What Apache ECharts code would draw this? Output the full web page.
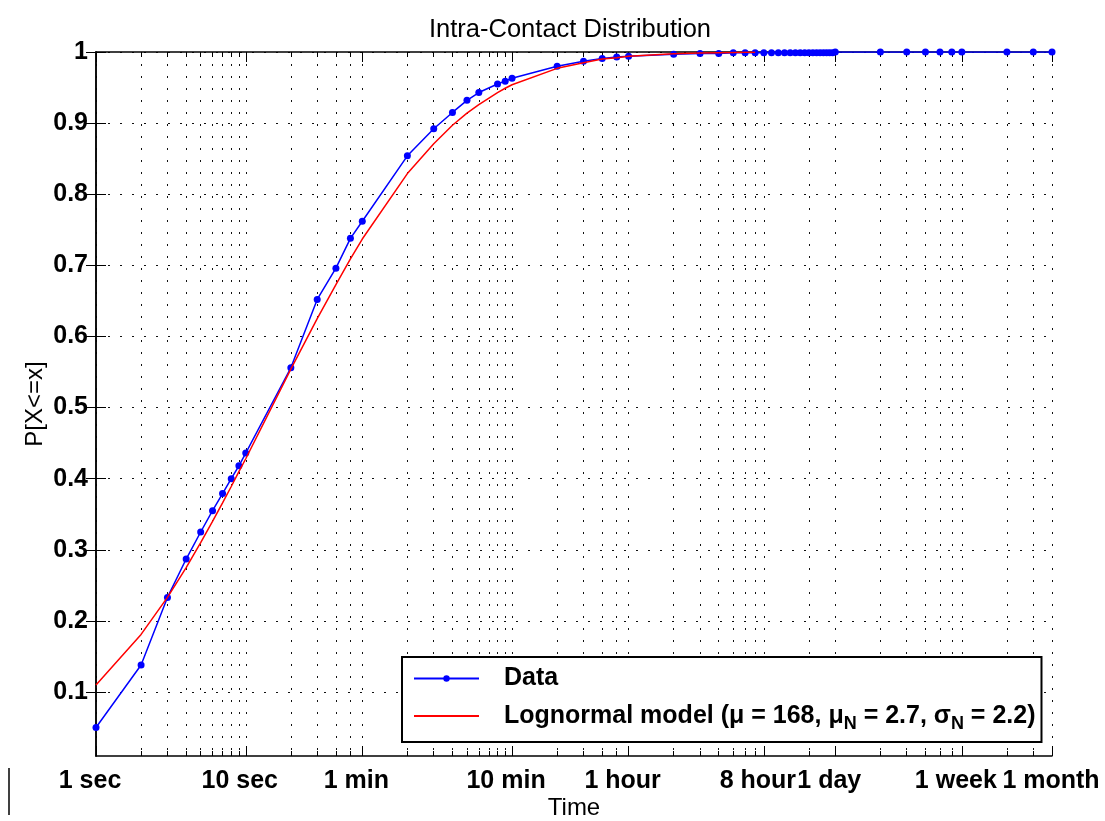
<!DOCTYPE html>
<html>
<head>
<meta charset="utf-8">
<script src="https://cdn.jsdelivr.net/npm/echarts@6/dist/echarts.min.js"></script>
<style>
html,body{margin:0;padding:0;background:#fff;}
#c{width:1105px;height:821px;}
</style>
</head>
<body>
<div id="c"></div>
<script>
// ---------------- DATA ----------------
const chartTitle = 'Intra-Contact Distribution';
const xName = 'Time';
const yName = 'P[X<=x]';

// Empirical CDF sample times (seconds)
const timeSec = [1,2,3,4,5,6,7,8,9,10,
  20,30,40,50,60,
  120,180,240,300,360,480,540,600,
  1200,1800,2400,3000,3600,
  7200,10800,14400,18000,21600,25200,28800,
  32400,36000,39600,43200,46800,50400,54000,57600,61200,64800,68400,72000,75600,79200,82800,86400,
  172800,259200,345600,432000,518400,604800,
  1209600,1814400,2419200];
const dataCdf = [0.050,0.138,0.233,0.287,0.325,0.355,0.379,0.400,0.418,0.436,
  0.556,0.652,0.696,0.738,0.762,
  0.854,0.892,0.915,0.932,0.943,0.955,0.959,0.963,
  0.980,0.987,0.991,0.993,0.994,
  0.997,0.998,0.998,0.999,0.999,0.999,0.999,
  0.999,0.999,0.999,0.999,0.999,0.999,0.999,0.999,0.999,0.999,0.999,0.999,0.999,0.999,0.999,1.000,
  1.000,1.000,1.000,1.000,1.000,1.000,
  1.000,1.000,1.000];

// Lognormal model curve (seconds, CDF)
const modelSec = [1,2,3,4,5,6,7,8,9,10,
  20,30,40,50,60,
  120,180,240,300,360,480,540,600,
  1200,1800,2400,3000,3600,
  7200,10800,14400,18000,21600,25200];
const modelCdf = [0.110,0.181,0.233,0.275,0.310,0.340,0.366,0.389,0.410,0.428,
  0.554,0.625,0.673,0.709,0.737,
  0.829,0.871,0.897,0.914,0.926,0.943,0.949,0.954,
  0.977,0.985,0.990,0.992,0.994,
  0.9975,0.9985,0.999,0.9993,0.9995,0.9996];

const dataName = 'Data';
const modelMu = 168, modelMuN = 2.7, modelSigmaN = 2.2;
const modelName = 'Lognormal model';

// Axis ticks (seconds) and labels
const gridTickSec = [1,2,3,4,5,6,7,8,9,10,20,30,40,50,60,
  120,180,240,300,360,420,480,540,600,1200,1800,2400,3000,3600,
  7200,10800,14400,18000,21600,25200,28800,57600,86400,
  172800,259200,345600,432000,518400,604800,1209600,1814400,2419200];
const labelSec = [1,10,60,600,3600,28800,86400,604800,2419200];
const labelText = ['1 sec','10 sec','1 min','10 min','1 hour','8 hour','1 day','1 week','1 month'];
const yTicks = [0.1,0.2,0.3,0.4,0.5,0.6,0.7,0.8,0.9,1];
const yMin = 0.01, yMax = 1;

// ---------------- CHART ----------------
const chart = echarts.init(document.getElementById('c'), null, {renderer:'canvas'});
const FONT = "'Liberation Sans', Arial, Helvetica, sans-serif";
const lg = v => Math.log10(v);
const xMin = lg(timeSec[0]);
const xMax = lg(timeSec[timeSec.length - 1]);
const fullModelName = `${modelName} (μ = ${modelMu}, μN = ${modelMuN}, σN = ${modelSigmaN})`;

const dotted = {color:'#111', width:1, type:[2,10]};
const blk = {color:'#000', width:1.5};
const lblFont = {fontFamily:FONT, fontSize:25, fontWeight:'bold', color:'#000'};

function xAx(extra){
  return Object.assign({
    type:'value', min:xMin, max:xMax, gridIndex:0,
    axisLine:{show:false}, splitLine:{show:false},
    axisLabel:{show:false}, axisTick:{show:false}
  }, extra);
}
const allTicks = gridTickSec.map(lg);
const labTicks = labelSec.map(lg);

const option = {
  animation:false,
  backgroundColor:'#fff',
  textStyle:{fontFamily:FONT},
  title:{
    text:chartTitle, left:429, top:17, padding:0,
    textStyle:{fontFamily:FONT, fontSize:25.5, fontWeight:'normal', color:'#000'}
  },
  grid:{left:96, right:53, top:52, bottom:65, containLabel:false, outerBoundsMode:'none'},
  legend:{
    orient:'vertical', left:402, top:657,
    padding:[9,6,9,11], itemGap:8,
    itemWidth:65, itemHeight:8,
    backgroundColor:'#fff', borderColor:'#000', borderWidth:2,
    data:[{name:dataName}, {name:fullModelName, itemStyle:{opacity:0}}],
    formatter:function(name){
      if (name === dataName) return '{t|' + dataName + '}';
      return '{t|' + modelName + ' (μ = ' + modelMu + ', μ}{s|N}{t| = ' + modelMuN + ', σ}{s|N}{t| = ' + modelSigmaN + ')}';
    },
    textStyle:{
      fontFamily:FONT, fontSize:25, fontWeight:'bold', color:'#000', padding:[0,0,0,20],
      rich:{
        t:{fontFamily:FONT, fontSize:25, fontWeight:'bold', color:'#000', lineHeight:30},
        s:{fontFamily:FONT, fontSize:18, fontWeight:'bold', color:'#000', lineHeight:30, padding:[16,0,0,0]}
      }
    }
  },
  xAxis:[
    xAx({position:'bottom', axisLine:{show:true, lineStyle:blk},
      axisTick:{show:true, inside:true, length:5, customValues:allTicks, lineStyle:{color:'#000', width:1}},
      splitLine:{show:true, lineStyle:dotted}}),
    xAx({position:'bottom',
      axisTick:{show:true, inside:true, length:10, customValues:labTicks, lineStyle:{color:'#000', width:1}},
      axisLabel:Object.assign({show:true, customValues:labTicks, showMinLabel:true, showMaxLabel:true, hideOverlap:false,
        margin:13,
        rich:{
          a:Object.assign({padding:[0,12,0,0]}, lblFont),
          b:Object.assign({padding:[0,2,0,0]}, lblFont)
        },
        formatter:function(v){
          for (let i=0;i<labelSec.length;i++){
            if (Math.abs(lg(labelSec[i])-v) < 1e-6) return (i === labelSec.length-1 ? '{b|' : '{a|') + labelText[i] + '}';
          }
          return '';
        }}, lblFont),
      name:xName, nameLocation:'middle', nameGap:40, nameMoveOverlap:false,
      nameTextStyle:{fontFamily:FONT, fontSize:24, color:'#000'}}),
    xAx({position:'top', axisLine:{show:true, lineStyle:blk},
      axisTick:{show:true, inside:true, length:5, customValues:allTicks, lineStyle:{color:'#000', width:1}}}),
    xAx({position:'top',
      axisTick:{show:true, inside:true, length:10, customValues:labTicks, lineStyle:{color:'#000', width:1}}})
  ],
  yAxis:[
    {type:'value', position:'left', min:yMin, max:yMax,
      axisLine:{show:true, lineStyle:blk},
      axisTick:{show:true, inside:true, length:10, customValues:yTicks, lineStyle:{color:'#000', width:1}},
      axisLabel:Object.assign({show:true, customValues:yTicks, margin:8,
        formatter:function(v){ return String(+v.toFixed(1)); }}, lblFont),
      splitLine:{show:true, lineStyle:dotted},
      name:yName, nameLocation:'middle', nameGap:49, nameRotate:90, nameMoveOverlap:false,
      nameTextStyle:{fontFamily:FONT, fontSize:24, color:'#000'}},
    {type:'value', position:'right', min:yMin, max:yMax,
      axisLine:{show:true, lineStyle:blk},
      axisTick:{show:true, inside:true, length:10, customValues:yTicks, lineStyle:{color:'#000', width:1}},
      axisLabel:{show:false}, splitLine:{show:false}}
  ],
  series:[
    {name:dataName, type:'line', xAxisIndex:0, yAxisIndex:0,
      data:timeSec.map((t,i)=>[lg(t), dataCdf[i]]),
      symbol:'circle', symbolSize:7, showSymbol:true,
      lineStyle:{color:'#0000ff', width:1.5}, itemStyle:{color:'#0000ff'}, z:3},
    {name:fullModelName, type:'line', xAxisIndex:0, yAxisIndex:0,
      data:modelSec.map((t,i)=>[lg(t), modelCdf[i]]),
      symbol:'none', showSymbol:false,
      lineStyle:{color:'#ff0000', width:1.5}, itemStyle:{color:'#ff0000'}, z:4}
  ],
  graphic:[
    {type:'line', shape:{x1:9, y1:768, x2:9, y2:815}, style:{stroke:'#000', lineWidth:1.5}, silent:true}
  ]
};
chart.setOption(option);
</script>
</body>
</html>
